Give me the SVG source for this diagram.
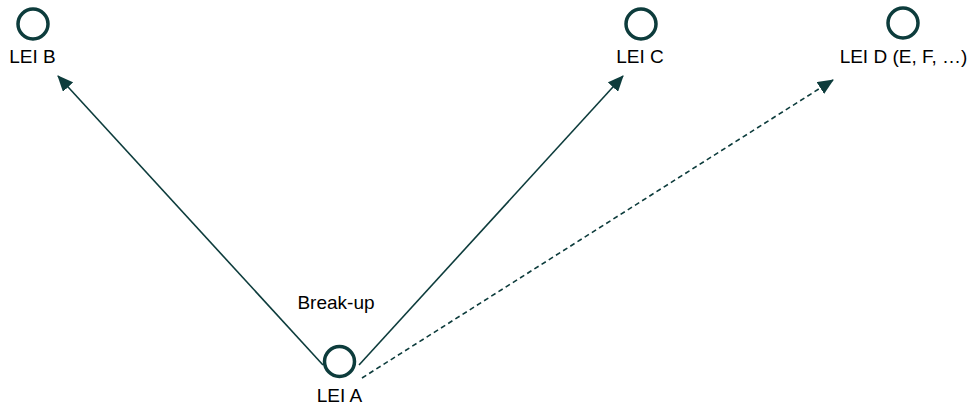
<svg xmlns="http://www.w3.org/2000/svg" width="975" height="405" viewBox="0 0 975 405">
<defs>
<style>
.node circle{fill:none;stroke:#0d3c3c;stroke-width:3.5}
text{font-family:"Liberation Sans","Open Sans",sans-serif;font-size:19px;fill:#000}
.edge{stroke:#0d3c3c;stroke-width:1.6;fill:none}
.dash{stroke-dasharray:5 3.5}
</style>
<marker id="ah" viewBox="0 0 16 14" refX="15" refY="7" markerWidth="16" markerHeight="14" markerUnits="userSpaceOnUse" orient="auto">
<path d="M0,0 L16,7 L0,14 z" fill="#0d3c3c"/>
</marker>
</defs>
<rect width="975" height="405" fill="#fff"/>
<g id="connectors">
<line class="edge" x1="323" y1="365" x2="58" y2="76" marker-end="url(#ah)"/>
<line class="edge" x1="359" y1="365" x2="623" y2="76" marker-end="url(#ah)"/>
<line class="edge dash" x1="362" y1="378" x2="833" y2="80" marker-end="url(#ah)"/>
</g>
<g id="nodeB" class="node"><circle cx="33" cy="24" r="15"/><text x="32.5" y="63" text-anchor="middle">LEI B</text></g>
<g id="nodeC" class="node"><circle cx="641" cy="24" r="15"/><text x="640" y="63" text-anchor="middle">LEI C</text></g>
<g id="nodeD" class="node"><circle cx="903" cy="23" r="15"/><text x="903.5" y="63" text-anchor="middle">LEI D (E, F, …)</text></g>
<g id="nodeA" class="node"><circle cx="339.5" cy="361.5" r="15"/><text x="339.5" y="402" text-anchor="middle">LEI A</text></g>
<text id="label" x="336" y="309" text-anchor="middle">Break-up</text>
</svg>
